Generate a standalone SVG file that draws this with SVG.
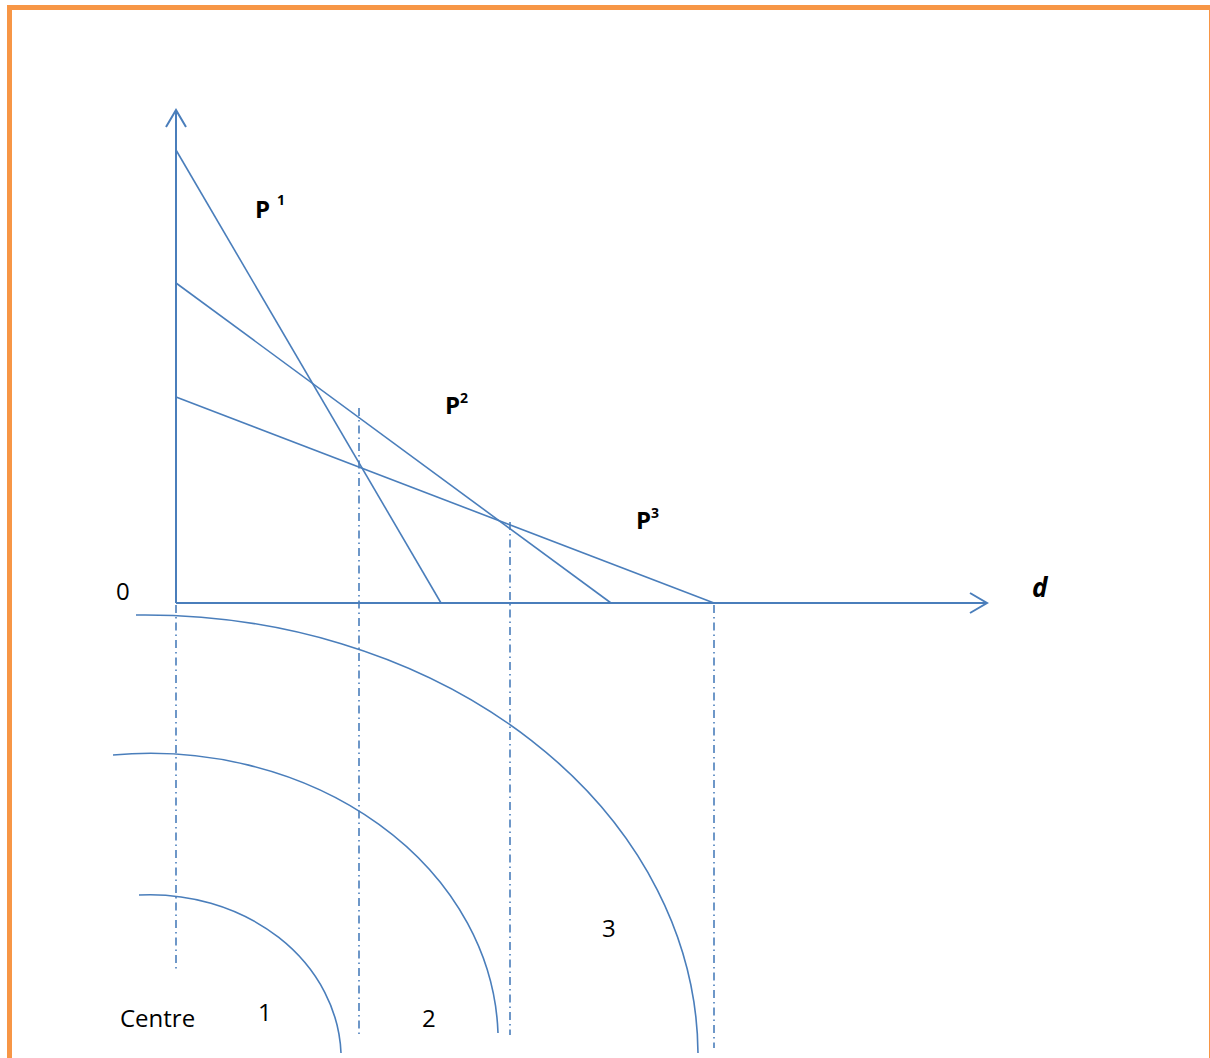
<svg xmlns="http://www.w3.org/2000/svg" width="1210" height="1058" viewBox="0 0 1210 1058">
<style>
.ln{stroke:#4A7EBB;stroke-width:1.6;fill:none}
.ax{stroke:#4A7EBB;stroke-width:2;fill:none}
.dd{stroke:#4A7EBB;stroke-width:1.6;fill:none;stroke-dasharray:8 4 1.5 4}
.t{font-family:"Open Sans","Liberation Sans",sans-serif;fill:#000}
.b{font-weight:bold}
</style>
<rect x="0" y="0" width="1210" height="1058" fill="#fff"/>
<rect id="frame" x="9.5" y="7.5" width="1202" height="1070" fill="none" stroke="#F79646" stroke-width="5"/>
<g id="connectors">
<path class="ax" d="M176 603 V110 M166 127 L176 110 L186 127"/>
<path class="ax" d="M176 603 H987 M970 593 L987 603 L970 613"/>
<line class="ln" x1="176" y1="150" x2="441" y2="603"/>
<line class="ln" x1="176" y1="283" x2="611" y2="603"/>
<line class="ln" x1="176" y1="397" x2="714" y2="603"/>
<line class="dd" x1="176" y1="605" x2="176" y2="970"/>
<line class="dd" x1="359" y1="408" x2="359" y2="1035"/>
<line class="dd" x1="510" y1="522" x2="510" y2="1035"/>
<line class="dd" x1="714" y1="605" x2="714" y2="1048"/>
<path class="ln" d="M136 615 A553 441 0 0 1 698 1053"/>
<path class="ln" d="M113 755 A348 288 0 0 1 498 1033"/>
<path class="ln" d="M139 895 A191 164 0 0 1 341 1053"/>
</g>
<g id="labels">
<text class="t b" x="255" y="218" font-size="24">P</text><text class="t b" x="277" y="205" font-size="14">1</text>
<text class="t b" x="445" y="414" font-size="24">P</text><text class="t b" x="460" y="403" font-size="14">2</text>
<text class="t b" x="636" y="529" font-size="24">P</text><text class="t b" x="651" y="518" font-size="14">3</text>
<text class="t" x="116" y="600" font-size="24">0</text>
<text class="t b" x="1032" y="597" font-size="26" font-style="italic">d</text>
<text class="t" x="120" y="1027" font-size="24">Centre</text>
<text class="t" x="258" y="1021" font-size="24">1</text>
<text class="t" x="422" y="1027" font-size="24">2</text>
<text class="t" x="602" y="937" font-size="24">3</text>
</g>
</svg>
